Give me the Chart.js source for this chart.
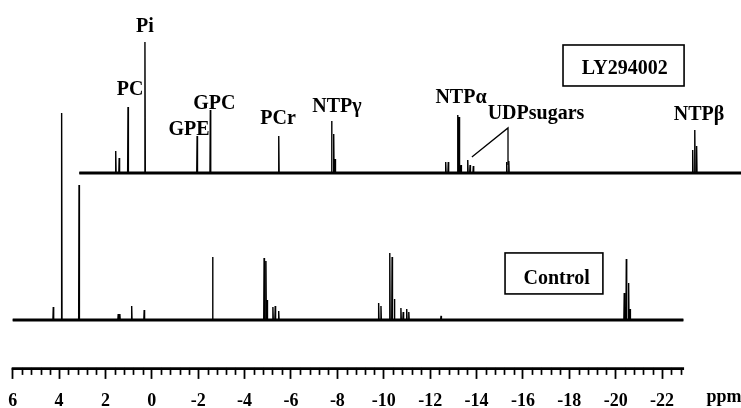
<!DOCTYPE html>
<html><head><meta charset="utf-8">
<script src="https://cdn.jsdelivr.net/npm/chart.js@4.4.1/dist/chart.umd.min.js"></script>
<style>html,body{margin:0;padding:0;background:#fff}#wrap{width:741px;height:408px;position:relative}</style>
</head><body><div id="wrap"><canvas id="c"></canvas></div>
<script>
// ---- axis ticks ----
const tickValues = [6,4,2,0,-2,-4,-6,-8,-10,-12,-14,-16,-18,-20,-22];
const tickLabels = ['6','4','2','0','-2','-4','-6','-8','-10','-12','-14','-16','-18','-20','-22'];
const axisUnit = 'ppm';

// ---- Control spectrum (bottom): peak positions (ppm) and intensities ----
const controlPpm    = [4.25, 3.89, 3.14, 1.45, 1.38, 0.87, 0.33, -2.62, -4.84, -4.92, -4.97, -5.22, -5.32, -5.47,
                       -9.78, -9.88, -10.26, -10.36, -10.46, -10.74, -10.84, -10.99, -11.08, -12.47,
                       -20.37, -20.46, -20.56, -20.62];
const controlHeight = [13, 207, 135, 6, 6, 14, 10, 63, 62, 59, 20, 13, 14, 9,
                       17, 14, 67, 63, 21, 12, 8, 11, 8, 4,
                       27, 61, 37, 11];

// ---- LY294002 spectrum (top): peak positions (ppm) and intensities ----
const lyPpm    = [4.43, 4.28, 3.90, 3.17, 0.92, 0.35, -2.60, -4.88, -4.97, -5.03,
                  -9.80, -9.91, -10.32, -10.38, -10.46, -10.75, -10.85, -10.99, -12.43, -12.52,
                  -20.45, -20.54, -20.62];
const lyHeight = [22, 15, 66, 131, 37, 63, 37, 52, 39, 14,
                  11, 11, 58, 56, 8, 13, 8, 7, 11, 12,
                  23, 43, 27];

// ---- peak labels (LY294002 spectrum) ----
const peakLabels = ['Pi', 'PC', 'GPC', 'GPE', 'PCr', 'NTP\u03B3', 'NTP\u03B1', 'UDPsugars', 'NTP\u03B2'];
const seriesNames = ['LY294002', 'Control'];

// ---- layout / style constants (not data) ----
const SPEC_START = 6, SPEC_END = -22.92;      // acquired ppm range
const LY_SHIFT = 2.872;                        // horizontal stack offset of top trace (ppm)
const LY_BASE = 147, CONTROL_BASE = 0;         // vertical stack offsets
const VIEW_MAX = 6.548, VIEW_MIN = -25.405;    // visible axis range
const AXIS_END = -22.95, MINOR_STEP = 0.4;
const EPS = 0.016;
// label anchors in axis coordinates [x(ppm axis), y]
const labelPos = [[0.295,288],[0.942,225],[-2.693,211],[-1.602,185],[-5.44,196],[-7.984,207.7],[-13.331,217.3],[-16.565,200.7],[-23.594,200]];
const lyBox = {x0:-17.73, x1:-22.95, y0:275, y1:234, tx:-20.39, ty:246};
const ctlBox = {x0:-15.23, x1:-19.45, y0:67, y1:26, tx:-17.458, ty:36};
const udpLeader = [[-13.80,163],[-15.358,192],[-15.358,155]];
const FONT = 'bold 20px "Liberation Serif", "Times New Roman", serif';

function spectrum(ppm, height, shift, base) {
  const pts = [{x: SPEC_START - shift, y: base}];
  for (let i = 0; i < ppm.length; i++) {
    const p = ppm[i] - shift;
    pts.push({x: p + EPS, y: base});
    pts.push({x: p, y: base + height[i]});
    pts.push({x: p - EPS, y: base});
  }
  pts.push({x: SPEC_END - shift, y: base});
  return pts;
}
function baseline(shift, base) {
  return [{x: SPEC_START - shift, y: base}, {x: SPEC_END - shift, y: base}];
}

const annot = {
  id: 'annot',
  afterDatasetsDraw(chart) {
    const ctx = chart.ctx, xs = chart.scales.x, ys = chart.scales.y, ca = chart.chartArea;
    const X = v => xs.getPixelForValue(v), Y = v => ys.getPixelForValue(v);
    ctx.save();
    ctx.fillStyle = '#000'; ctx.strokeStyle = '#000';
    // axis line
    ctx.lineWidth = 2.7; ctx.lineCap = 'butt';
    ctx.beginPath(); ctx.moveTo(X(SPEC_START) - 1, ca.bottom + 0.8); ctx.lineTo(X(AXIS_END), ca.bottom + 0.8); ctx.stroke();
    // minor ticks
    ctx.lineWidth = 1.7;
    for (let i = 0; ; i++) {
      const v = SPEC_START - i * MINOR_STEP;
      if (v < AXIS_END) break;
      if (i % 5 === 0) continue;
      const x = Math.round(X(v)) + 0.5;
      ctx.beginPath(); ctx.moveTo(x, ca.bottom); ctx.lineTo(x, ca.bottom + 7); ctx.stroke();
    }
    // unit label
    ctx.font = 'bold 18px "Liberation Serif", serif';
    ctx.textAlign = 'center'; ctx.textBaseline = 'alphabetic';
    ctx.fillText(axisUnit, X(-24.67), ca.bottom + 34);
    // peak labels
    ctx.font = FONT; ctx.textAlign = 'center'; ctx.textBaseline = 'alphabetic';
    peakLabels.forEach((t, i) => ctx.fillText(t, X(labelPos[i][0]), Y(labelPos[i][1])));
    // boxes
    ctx.lineWidth = 1.6;
    [[lyBox, seriesNames[0]], [ctlBox, seriesNames[1]]].forEach(([b, t]) => {
      const x0 = X(b.x0), x1 = X(b.x1), y0 = Y(b.y0), y1 = Y(b.y1);
      ctx.strokeRect(x0, y0, x1 - x0, y1 - y0);
      ctx.fillText(t, X(b.tx), Y(b.ty));
    });
    // UDP sugars leader lines
    ctx.lineWidth = 1.3;
    ctx.beginPath();
    ctx.moveTo(X(udpLeader[0][0]), Y(udpLeader[0][1]));
    ctx.lineTo(X(udpLeader[1][0]), Y(udpLeader[1][1]));
    ctx.lineTo(X(udpLeader[2][0]), Y(udpLeader[2][1]));
    ctx.stroke();
    ctx.restore();
  }
};

const lineStyle = {showLine: true, pointRadius: 0, borderColor: '#000', borderJoinStyle: 'bevel', fill: false, tension: 0};
new Chart(document.getElementById('c'), {
  type: 'scatter',
  data: {
    datasets: [
      Object.assign({label: seriesNames[0], data: spectrum(lyPpm, lyHeight, LY_SHIFT, LY_BASE), borderWidth: 1.4}, lineStyle),
      Object.assign({label: seriesNames[0] + ' baseline', data: baseline(LY_SHIFT, LY_BASE), borderWidth: 3}, lineStyle),
      Object.assign({label: seriesNames[1], data: spectrum(controlPpm, controlHeight, 0, CONTROL_BASE), borderWidth: 1.4}, lineStyle),
      Object.assign({label: seriesNames[1] + ' baseline', data: baseline(0, CONTROL_BASE), borderWidth: 3}, lineStyle)
    ]
  },
  options: {
    responsive: true, maintainAspectRatio: false, animation: false,
    layout: {padding: {left: 0, right: 0, top: 0, bottom: -16}},
    plugins: {legend: {display: false}, tooltip: {enabled: false}},
    scales: {
      x: {
        type: 'linear', reverse: true, min: VIEW_MIN, max: VIEW_MAX,
        afterBuildTicks: s => { s.ticks = tickValues.map(v => ({value: v})); },
        afterFit: s => { s.paddingLeft = 0; s.paddingRight = 0; },
        border: {display: false},
        grid: {display: true, drawOnChartArea: false, drawTicks: true, tickLength: 11, tickWidth: 1.8, tickColor: '#000'},
        ticks: {
          autoSkip: false, maxRotation: 0, padding: 22, color: '#000',
          font: {family: '"Liberation Serif", "Times New Roman", serif', size: 18, weight: 'bold', lineHeight: 0.06},
          callback: v => { const i = tickValues.indexOf(v); return i >= 0 ? tickLabels[i] : ''; }
        }
      },
      y: {type: 'linear', display: false, min: -48, max: 320}
    }
  },
  plugins: [annot]
});
</script>
</body></html>
